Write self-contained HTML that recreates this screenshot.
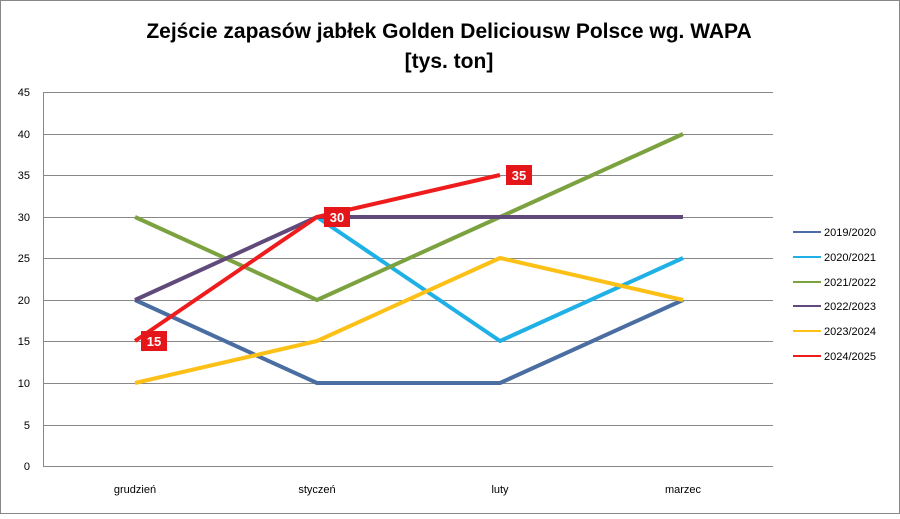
<!DOCTYPE html><html><head><style>body{margin:0;background:#fff}</style></head><body>
<svg width="900" height="514" xmlns="http://www.w3.org/2000/svg" font-family="Liberation Sans, sans-serif">
<rect x="0.5" y="0.5" width="899" height="513" fill="#fff" stroke="#888"/>
<text x="449" y="38" font-size="21" font-weight="bold" text-anchor="middle" fill="#000">Zejście zapasów jabłek Golden Deliciousw Polsce wg. WAPA</text>
<text x="449" y="68" font-size="21" font-weight="bold" text-anchor="middle" fill="#000">[tys. ton]</text>
<g stroke="#888" stroke-width="1">
<line x1="43" y1="92.5" x2="773" y2="92.5"/><line x1="43" y1="134.5" x2="773" y2="134.5"/><line x1="43" y1="175.5" x2="773" y2="175.5"/><line x1="43" y1="217.5" x2="773" y2="217.5"/><line x1="43" y1="258.5" x2="773" y2="258.5"/><line x1="43" y1="300.5" x2="773" y2="300.5"/><line x1="43" y1="341.5" x2="773" y2="341.5"/><line x1="43" y1="383.5" x2="773" y2="383.5"/><line x1="43" y1="425.5" x2="773" y2="425.5"/><line x1="43" y1="466.5" x2="773" y2="466.5"/>
<line x1="43.5" y1="92" x2="43.5" y2="466"/>
</g>
<g font-size="11" fill="#000" text-anchor="end">
<text x="30" y="96">45</text><text x="30" y="138">40</text><text x="30" y="179">35</text><text x="30" y="221">30</text><text x="30" y="262">25</text><text x="30" y="304">20</text><text x="30" y="345">15</text><text x="30" y="387">10</text><text x="30" y="429">5</text><text x="30" y="470">0</text>
</g>
<g font-size="11" fill="#000" text-anchor="middle">
<text x="135" y="493">grudzień</text><text x="317" y="493">styczeń</text><text x="500" y="493">luty</text><text x="683" y="493">marzec</text>
</g>
<g fill="none" stroke-width="4" stroke-linejoin="round">
<polyline stroke="#4a6da2" points="135,300 317,383 500,383 683,300"/>
<polyline stroke="#1fb0e6" points="317,217 500,341 683,258"/>
<polyline stroke="#7ba23f" points="135,217 317,300 500,217 683,134"/>
<polyline stroke="#604a7b" points="135,300 317,217 500,217 683,217"/>
<polyline stroke="#fcc016" points="135,383 317,341 500,258 683,300"/>
<polyline stroke="#ee1c1c" points="135,341 317,217 500,175"/>
</g>
<g font-size="13" font-weight="bold" fill="#fff" text-anchor="middle">
<rect x="141" y="331" width="26" height="20" fill="#e5161a"/><text x="154" y="346">15</text>
<rect x="324" y="207" width="26" height="20" fill="#e5161a"/><text x="337" y="222">30</text>
<rect x="506" y="165" width="26" height="20" fill="#e5161a"/><text x="519" y="180">35</text>
</g>
<g stroke-width="2">
<line x1="793" y1="232" x2="821" y2="232" stroke="#4a6da2"/>
<line x1="793" y1="257" x2="821" y2="257" stroke="#1fb0e6"/>
<line x1="793" y1="282" x2="821" y2="282" stroke="#7ba23f"/>
<line x1="793" y1="306" x2="821" y2="306" stroke="#604a7b"/>
<line x1="793" y1="331" x2="821" y2="331" stroke="#fcc016"/>
<line x1="793" y1="356" x2="821" y2="356" stroke="#ee1c1c"/>
</g>
<g font-size="11" fill="#000">
<text x="824" y="236">2019/2020</text><text x="824" y="261">2020/2021</text><text x="824" y="286">2021/2022</text><text x="824" y="310">2022/2023</text><text x="824" y="335">2023/2024</text><text x="824" y="360">2024/2025</text>
</g>
</svg>
</body></html>
